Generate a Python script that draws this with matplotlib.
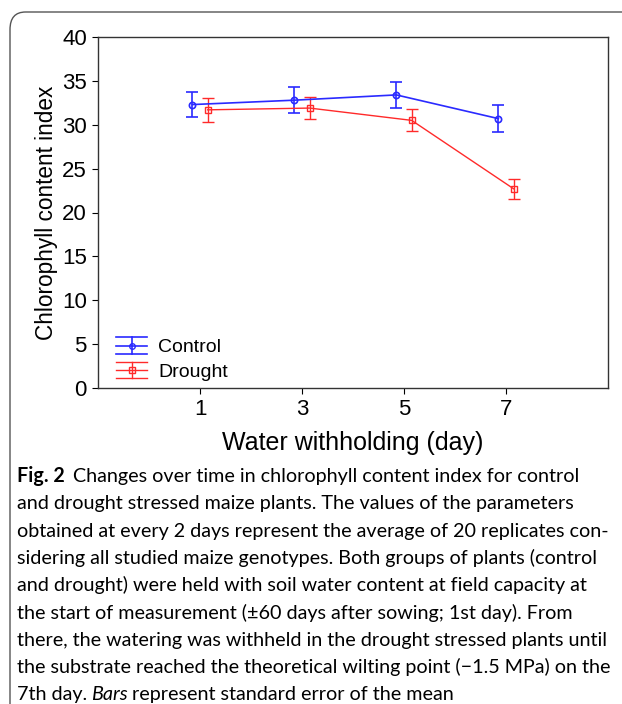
import matplotlib.pyplot as plt
from matplotlib.patches import FancyBboxPatch
from matplotlib.lines import Line2D
from matplotlib.legend_handler import HandlerBase

# Данные
days = [1, 3, 5, 7]
control = [32.3, 32.8, 33.4, 30.7]
control_se = [1.4, 1.45, 1.5, 1.5]
drought = [31.7, 31.9, 30.5, 22.7]
drought_se = [1.4, 1.3, 1.25, 1.15]
y_ticks = [0, 5, 10, 15, 20, 25, 30, 35, 40]

caption_lines = [
    "Changes over time in chlorophyll content index for control",
    "and drought stressed maize plants. The values of the parameters",
    "obtained at every 2 days represent the average of 20 replicates con-",
    "sidering all studied maize genotypes. Both groups of plants (control",
    "and drought) were held with soil water content at field capacity at",
    "the start of measurement (\u00b160 days after sowing; 1st day). From",
    "there, the watering was withheld in the drought stressed plants until",
    "the substrate reached the theoretical wilting point (\u22121.5 MPa) on the",
    "7th day.",
]

plt.rcParams['font.family'] = ['Liberation Sans', 'DejaVu Sans']


# Значок легенды: линия с маркером и "усы" во всю ширину
class ErrHandle(HandlerBase):
    def create_artists(self, legend, orig, xdescent, ydescent, width, height,
                       fontsize, trans):
        line = orig.lines[0]
        c = line.get_color()
        lw = line.get_linewidth()
        yc = height / 2 - ydescent
        e = 0.62 * height
        xs = [-xdescent, width - xdescent]
        xm = (width - xdescent) / 2 - xdescent / 2
        arts = [
            Line2D(xs, [yc, yc], color=c, lw=lw),
            Line2D(xs, [yc + e, yc + e], color=c, lw=lw),
            Line2D(xs, [yc - e, yc - e], color=c, lw=lw),
            Line2D([xm, xm], [yc - e, yc + e], color=c, lw=lw),
            Line2D([xm], [yc], marker=line.get_marker(), markersize=4,
                   markerfacecolor='none', markeredgecolor=c, lw=0),
        ]
        for a in arts:
            a.set_transform(trans)
        return arts


fig = plt.figure(figsize=(6.22, 7.04), dpi=100)
W, H = 622, 704

# Рамка вокруг рисунка
frame = FancyBboxPatch((10 / W, -0.05), 1.2, 1.05 - 12 / H,
                       boxstyle="round,pad=0,rounding_size=0.025",
                       transform=fig.transFigure, fill=False,
                       edgecolor='#555555', linewidth=1.0)
fig.patches.append(frame)

ax = fig.add_axes([98 / W, 1 - 388 / H, (608 - 98) / W, (388 - 37) / H])

blue = '#2a2aff'
red = '#ff2a2a'
off = 0.15

eb1 = ax.errorbar([d - off for d in days], control, yerr=control_se, color=blue,
                  marker='o', markersize=4.5, markerfacecolor='none', markeredgewidth=1.2,
                  linewidth=1.2, capsize=4.5, capthick=1.2, elinewidth=1.2, label='Control')
eb2 = ax.errorbar([d + off for d in days], drought, yerr=drought_se, color=red,
                  marker='s', markersize=4.5, markerfacecolor='none', markeredgewidth=1.0,
                  linewidth=1.0, capsize=4.5, capthick=1.0, elinewidth=1.0, label='Drought')

ax.set_xlim(-1, 9)
ax.set_ylim(0, 40)
ax.set_xticks(days)
ax.set_yticks(y_ticks)
ax.tick_params(labelsize=16, length=4, width=0.8, pad=4)
for sp in ax.spines.values():
    sp.set_linewidth(1.0)
    sp.set_color('#333333')

ax.set_xlabel('Water withholding (day)', fontsize=18, labelpad=8)
ax.set_ylabel('Chlorophyll content index', fontsize=16.3, labelpad=3)

leg = ax.legend(handler_map={eb1: ErrHandle(), eb2: ErrHandle()},
                loc='lower left', bbox_to_anchor=(0.015, -0.01), frameon=False,
                fontsize=14, handlelength=1.6, handletextpad=0.55,
                labelspacing=0.35, borderaxespad=0.15)

# Подпись к рисунку
cap_font = ['Lato', 'DejaVu Sans']
x0 = 17 / W
line_h = 27.3 / H
y0 = 1 - 482 / H
fs = 14.2

renderer = fig.canvas.get_renderer()
t = fig.text(x0, y0, "Fig. 2", fontsize=fs, fontweight='bold', family=cap_font)
bb = t.get_window_extent(renderer)
fig.text(bb.x1 / W + 8 / W, y0, caption_lines[0], fontsize=fs, family=cap_font)
for i, line in enumerate(caption_lines[1:], start=1):
    t2 = fig.text(x0, y0 - i * line_h, line, fontsize=fs, family=cap_font)
bb2 = t2.get_window_extent(renderer)
t3 = fig.text(bb2.x1 / W + 4 / W, y0 - 8 * line_h, "Bars", fontsize=fs,
              style='italic', family=cap_font)
bb3 = t3.get_window_extent(renderer)
fig.text(bb3.x1 / W + 4 / W, y0 - 8 * line_h, "represent standard error of the mean",
         fontsize=fs, family=cap_font)

fig.savefig('out.png', dpi=100)
